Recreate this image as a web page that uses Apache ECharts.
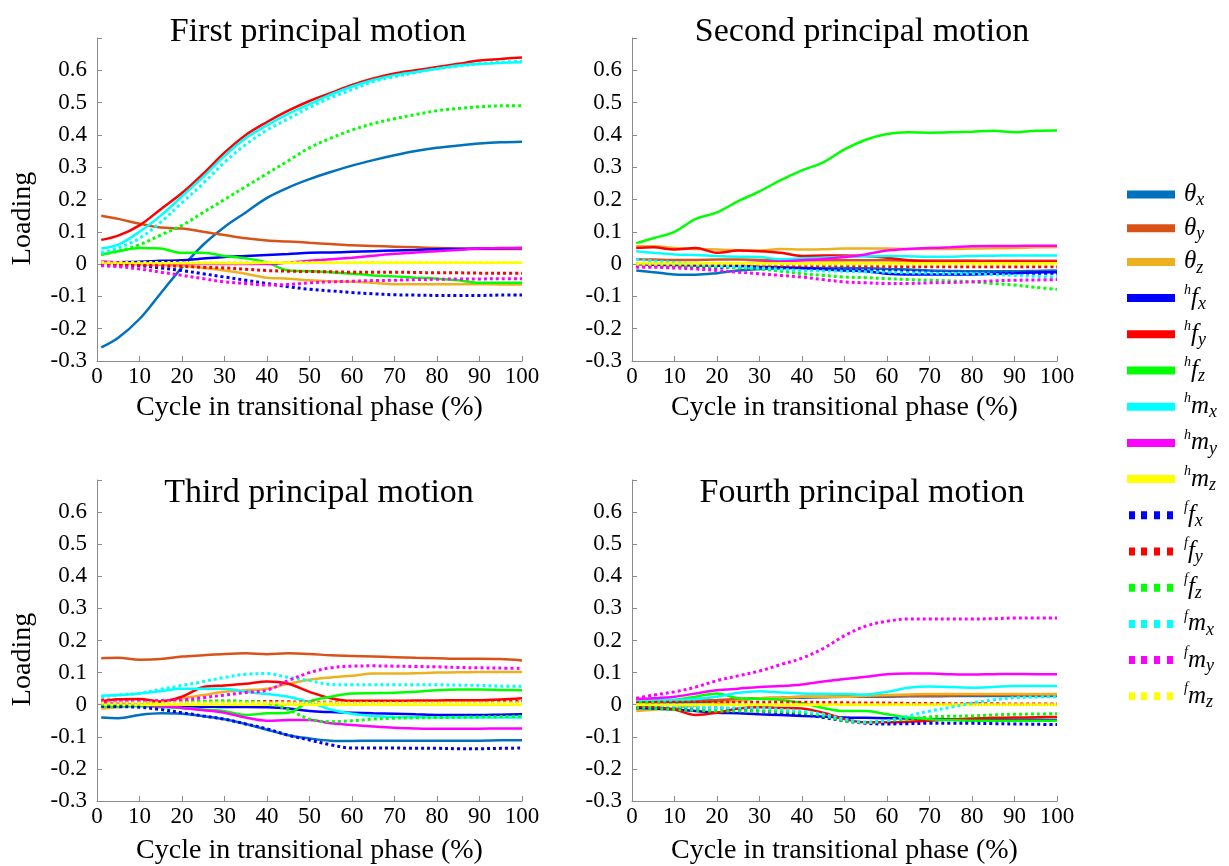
<!DOCTYPE html>
<html>
<head>
<meta charset="utf-8">
<script src="https://cdn.jsdelivr.net/npm/echarts@6/dist/echarts.min.js"></script>
<style>
  html, body { margin: 0; background: #fff; }
  #chart { width: 1229px; height: 866px; }
</style>
</head>
<body>
<div id="chart"></div>
<script>
// cycle positions (% of transitional phase) at which loadings were read
const cycle = [1, 5, 10, 15, 20, 25, 30, 35, 40, 45, 50, 55, 60, 65, 70, 75, 80, 85, 90, 95, 100];

const seriesNames = ['θx', 'θy', 'θz', 'hfx', 'hfy', 'hfz', 'hmx', 'hmy', 'hmz', 'ffx', 'ffy', 'ffz', 'fmx', 'fmy', 'fmz'];
const seriesColors = ['#0072BD', '#D95319', '#EDB120', '#0000FF', '#FF0000', '#00FF00', '#00FFFF', '#FF00FF', '#FFFF00',
  '#0000FF', '#FF0000', '#00FF00', '#00FFFF', '#FF00FF', '#FFFF00'];
const panelTitles = ['First principal motion', 'Second principal motion', 'Third principal motion', 'Fourth principal motion'];

// --- first principal motion
const first_thx = [-0.258, -0.228, -0.17, -0.09, -0.01, 0.06, 0.115, 0.16, 0.205, 0.237, 0.263, 0.285, 0.305, 0.322, 0.337, 0.35, 0.36, 0.367, 0.373, 0.377, 0.379];
const first_thy = [0.15, 0.14, 0.125, 0.113, 0.11, 0.1, 0.09, 0.08, 0.073, 0.07, 0.066, 0.062, 0.058, 0.056, 0.054, 0.052, 0.05, 0.048, 0.047, 0.047, 0.047];
const first_thz = [0.005, 0.003, 0.0, -0.002, -0.005, -0.012, -0.02, -0.03, -0.042, -0.045, -0.05, -0.053, -0.055, -0.058, -0.062, -0.062, -0.062, -0.062, -0.062, -0.063, -0.063];
const first_hfx = [0.005, 0.006, 0.007, 0.01, 0.012, 0.017, 0.022, 0.025, 0.028, 0.031, 0.035, 0.036, 0.038, 0.04, 0.042, 0.044, 0.046, 0.047, 0.048, 0.049, 0.05];
const first_hfy = [0.075, 0.088, 0.12, 0.17, 0.22, 0.28, 0.345, 0.4, 0.44, 0.475, 0.505, 0.53, 0.555, 0.575, 0.59, 0.6, 0.61, 0.62, 0.63, 0.635, 0.64];
const first_hfz = [0.03, 0.04, 0.05, 0.048, 0.035, 0.035, 0.025, 0.018, 0.005, -0.02, -0.022, -0.025, -0.03, -0.035, -0.038, -0.042, -0.045, -0.05, -0.058, -0.058, -0.058];
const first_hmx = [0.048, 0.06, 0.1, 0.15, 0.21, 0.27, 0.335, 0.39, 0.43, 0.465, 0.495, 0.525, 0.55, 0.57, 0.585, 0.595, 0.605, 0.615, 0.62, 0.623, 0.625];
const first_hmy = [0.008, 0.005, 0.0, 0.0, 0.0, 0.0, 0.0, 0.0, 0.0, 0.005, 0.01, 0.015, 0.02, 0.026, 0.032, 0.036, 0.04, 0.044, 0.048, 0.05, 0.05];
const first_hmz = [0.002, 0.002, 0.002, 0.002, 0.003, 0.003, 0.003, 0.003, 0.004, 0.004, 0.004, 0.004, 0.004, 0.004, 0.004, 0.004, 0.004, 0.004, 0.004, 0.004, 0.004];
const first_ffx = [-0.003, -0.004, -0.005, -0.012, -0.02, -0.03, -0.04, -0.05, -0.06, -0.07, -0.078, -0.083, -0.088, -0.092, -0.095, -0.096, -0.097, -0.097, -0.097, -0.096, -0.096];
const first_ffy = [0.0, -0.002, -0.003, -0.005, -0.007, -0.01, -0.012, -0.016, -0.02, -0.022, -0.023, -0.024, -0.025, -0.025, -0.025, -0.026, -0.027, -0.027, -0.028, -0.028, -0.028];
const first_ffz = [0.03, 0.04, 0.06, 0.09, 0.12, 0.16, 0.2, 0.24, 0.28, 0.32, 0.36, 0.39, 0.415, 0.435, 0.45, 0.463, 0.475, 0.482, 0.487, 0.49, 0.49];
const first_fmx = [0.035, 0.05, 0.08, 0.13, 0.19, 0.25, 0.315, 0.37, 0.415, 0.45, 0.485, 0.515, 0.54, 0.565, 0.58, 0.593, 0.605, 0.613, 0.62, 0.625, 0.628];
const first_fmy = [-0.005, -0.008, -0.015, -0.025, -0.035, -0.045, -0.055, -0.06, -0.065, -0.063, -0.058, -0.055, -0.053, -0.051, -0.05, -0.048, -0.047, -0.046, -0.046, -0.045, -0.045];
const first_fmz = [0.005, 0.005, 0.005, 0.005, 0.005, 0.005, 0.005, 0.005, 0.005, 0.005, 0.005, 0.005, 0.005, 0.005, 0.005, 0.005, 0.005, 0.005, 0.005, 0.005, 0.005];

// --- second principal motion
const second_thx = [-0.02, -0.025, -0.032, -0.033, -0.028, -0.02, -0.015, -0.013, -0.012, -0.012, -0.012, -0.013, -0.015, -0.017, -0.02, -0.021, -0.022, -0.022, -0.022, -0.021, -0.02];
const second_thy = [0.015, 0.014, 0.013, 0.013, 0.014, 0.014, 0.013, 0.012, 0.012, 0.012, 0.012, 0.012, 0.012, 0.011, 0.011, 0.011, 0.011, 0.01, 0.01, 0.01, 0.01];
const second_thz = [0.055, 0.055, 0.05, 0.047, 0.045, 0.043, 0.042, 0.047, 0.045, 0.046, 0.048, 0.048, 0.048, 0.047, 0.047, 0.047, 0.048, 0.049, 0.05, 0.052, 0.053];
const second_hfx = [0.0, -0.002, -0.003, -0.004, -0.005, -0.006, -0.008, -0.01, -0.012, -0.016, -0.02, -0.022, -0.03, -0.032, -0.032, -0.032, -0.032, -0.03, -0.028, -0.026, -0.025];
const second_hfy = [0.05, 0.052, 0.045, 0.05, 0.035, 0.042, 0.04, 0.035, 0.025, 0.027, 0.027, 0.025, 0.02, 0.012, 0.008, 0.007, 0.007, 0.008, 0.008, 0.007, 0.007];
const second_hfz = [0.065, 0.08, 0.1, 0.14, 0.16, 0.195, 0.225, 0.26, 0.29, 0.315, 0.355, 0.385, 0.403, 0.408, 0.407, 0.408, 0.41, 0.413, 0.408, 0.413, 0.414];
const second_hmx = [0.04, 0.035, 0.03, 0.028, 0.025, 0.023, 0.022, 0.015, 0.018, 0.02, 0.023, 0.024, 0.025, 0.024, 0.023, 0.023, 0.025, 0.026, 0.027, 0.027, 0.027];
const second_hmy = [0.0, 0.0, 0.0, 0.0, 0.0, 0.002, 0.005, 0.008, 0.012, 0.016, 0.022, 0.03, 0.042, 0.047, 0.05, 0.052, 0.055, 0.056, 0.056, 0.057, 0.057];
const second_hmz = [0.003, 0.003, 0.003, 0.003, 0.003, 0.003, 0.003, 0.003, 0.003, 0.003, 0.003, 0.003, 0.003, 0.003, 0.003, 0.003, 0.003, 0.003, 0.003, 0.003, 0.003];
const second_ffx = [-0.005, -0.006, -0.007, -0.008, -0.01, -0.011, -0.012, -0.013, -0.015, -0.016, -0.018, -0.019, -0.02, -0.022, -0.025, -0.027, -0.028, -0.028, -0.028, -0.028, -0.028];
const second_ffy = [-0.003, -0.003, -0.004, -0.004, -0.005, -0.005, -0.005, -0.005, -0.005, -0.005, -0.005, -0.006, -0.007, -0.008, -0.008, -0.008, -0.008, -0.008, -0.008, -0.008, -0.008];
const second_ffz = [0.0, -0.002, -0.003, -0.005, -0.008, -0.012, -0.015, -0.022, -0.03, -0.035, -0.04, -0.042, -0.045, -0.048, -0.05, -0.052, -0.055, -0.06, -0.065, -0.072, -0.078];
const second_fmx = [0.015, 0.01, 0.005, 0.0, -0.005, -0.008, -0.012, -0.016, -0.02, -0.021, -0.022, -0.024, -0.025, -0.027, -0.028, -0.029, -0.03, -0.032, -0.035, -0.038, -0.04];
const second_fmy = [-0.01, -0.01, -0.012, -0.015, -0.02, -0.025, -0.03, -0.035, -0.04, -0.048, -0.055, -0.058, -0.06, -0.06, -0.058, -0.057, -0.055, -0.052, -0.05, -0.049, -0.048];
const second_fmz = [0.0, 0.0, 0.0, 0.0, 0.0, 0.0, 0.0, 0.0, 0.0, 0.0, 0.0, 0.0, 0.0, 0.0, 0.0, 0.0, 0.0, 0.0, 0.0, 0.0, 0.0];

// --- third principal motion
const third_thx = [-0.04, -0.042, -0.032, -0.027, -0.028, -0.036, -0.045, -0.06, -0.078, -0.095, -0.105, -0.112, -0.113, -0.112, -0.112, -0.112, -0.112, -0.112, -0.112, -0.111, -0.111];
const third_thy = [0.145, 0.146, 0.14, 0.142, 0.15, 0.154, 0.158, 0.16, 0.157, 0.16, 0.158, 0.154, 0.152, 0.15, 0.148, 0.146, 0.145, 0.143, 0.143, 0.142, 0.138];
const third_thz = [-0.012, -0.008, 0.0, 0.01, 0.02, 0.03, 0.04, 0.045, 0.05, 0.065, 0.078, 0.085, 0.09, 0.097, 0.097, 0.098, 0.1, 0.101, 0.102, 0.102, 0.102];
const third_hfx = [0.0, -0.002, -0.003, -0.004, -0.005, -0.006, -0.007, -0.007, -0.008, -0.012, -0.02, -0.023, -0.025, -0.027, -0.028, -0.03, -0.032, -0.032, -0.032, -0.031, -0.03];
const third_hfy = [0.01, 0.017, 0.018, 0.01, 0.025, 0.055, 0.06, 0.065, 0.072, 0.065, 0.04, 0.02, 0.012, 0.012, 0.012, 0.013, 0.013, 0.014, 0.014, 0.016, 0.02];
const third_hfz = [-0.005, -0.005, -0.005, -0.008, -0.01, -0.015, -0.02, -0.032, -0.027, -0.025, 0.01, 0.025, 0.035, 0.036, 0.037, 0.04, 0.045, 0.047, 0.047, 0.046, 0.045];
const third_hmx = [0.028, 0.03, 0.035, 0.042, 0.05, 0.05, 0.05, 0.04, 0.033, 0.025, 0.008, -0.015, -0.028, -0.035, -0.038, -0.039, -0.04, -0.04, -0.04, -0.04, -0.04];
const third_hmy = [0.005, 0.003, 0.0, -0.005, -0.01, -0.017, -0.025, -0.04, -0.05, -0.048, -0.048, -0.058, -0.063, -0.068, -0.072, -0.074, -0.075, -0.075, -0.075, -0.074, -0.074];
const third_hmz = [0.0, 0.0, 0.0, 0.0, 0.0, 0.0, 0.0, 0.0, 0.0, 0.0, 0.0, 0.0, 0.0, 0.0, 0.0, 0.0, 0.0, 0.0, 0.0, 0.0, 0.0];
const third_ffx = [-0.005, -0.006, -0.008, -0.015, -0.025, -0.035, -0.045, -0.06, -0.075, -0.095, -0.11, -0.125, -0.135, -0.135, -0.135, -0.136, -0.136, -0.137, -0.137, -0.136, -0.135];
const third_ffy = [0.015, 0.014, 0.013, 0.012, 0.012, 0.011, 0.011, 0.01, 0.01, 0.009, 0.008, 0.008, 0.008, 0.008, 0.009, 0.009, 0.009, 0.01, 0.01, 0.01, 0.01];
const third_ffz = [0.0, 0.003, 0.005, 0.007, 0.008, 0.01, 0.012, 0.01, 0.005, -0.015, -0.045, -0.053, -0.05, -0.045, -0.042, -0.041, -0.04, -0.039, -0.038, -0.037, -0.036];
const third_fmx = [0.025, 0.03, 0.035, 0.048, 0.06, 0.072, 0.085, 0.095, 0.097, 0.085, 0.075, 0.063, 0.062, 0.062, 0.062, 0.062, 0.062, 0.061, 0.06, 0.058, 0.057];
const third_fmy = [0.01, 0.01, 0.01, 0.012, 0.015, 0.022, 0.03, 0.038, 0.045, 0.075, 0.1, 0.115, 0.12, 0.121, 0.12, 0.119, 0.118, 0.116, 0.115, 0.114, 0.113];
const third_fmz = [0.005, 0.005, 0.005, 0.005, 0.005, 0.005, 0.005, 0.005, 0.005, 0.005, 0.005, 0.005, 0.005, 0.005, 0.005, 0.005, 0.005, 0.005, 0.005, 0.005, 0.005];

// --- fourth principal motion
const fourth_thx = [0.0, 0.002, 0.005, 0.008, 0.01, 0.015, 0.02, 0.021, 0.022, 0.023, 0.025, 0.025, 0.025, 0.026, 0.026, 0.027, 0.027, 0.027, 0.027, 0.027, 0.027];
const fourth_thy = [0.01, 0.011, 0.012, 0.013, 0.015, 0.018, 0.02, 0.022, 0.025, 0.025, 0.026, 0.026, 0.027, 0.028, 0.028, 0.029, 0.03, 0.03, 0.03, 0.03, 0.03];
const fourth_thz = [-0.02, -0.016, -0.01, -0.003, 0.005, 0.012, 0.02, 0.022, 0.025, 0.025, 0.025, 0.028, 0.03, 0.032, 0.033, 0.033, 0.033, 0.033, 0.033, 0.033, 0.033];
const fourth_hfx = [-0.01, -0.012, -0.015, -0.02, -0.025, -0.027, -0.03, -0.032, -0.035, -0.037, -0.04, -0.041, -0.042, -0.043, -0.045, -0.045, -0.045, -0.046, -0.047, -0.047, -0.048];
const fourth_hfy = [-0.005, -0.007, -0.015, -0.032, -0.025, -0.012, -0.008, -0.01, -0.012, -0.025, -0.045, -0.055, -0.055, -0.053, -0.05, -0.046, -0.043, -0.041, -0.04, -0.039, -0.038];
const fourth_hfz = [0.005, 0.01, 0.015, 0.025, 0.035, 0.02, 0.018, 0.015, 0.005, -0.01, -0.02, -0.02, -0.03, -0.04, -0.045, -0.048, -0.05, -0.05, -0.05, -0.05, -0.05];
const fourth_hmx = [0.015, 0.015, 0.015, 0.018, 0.025, 0.037, 0.042, 0.038, 0.035, 0.034, 0.033, 0.032, 0.04, 0.053, 0.057, 0.055, 0.053, 0.055, 0.058, 0.058, 0.058];
const fourth_hmy = [0.018, 0.02, 0.025, 0.035, 0.045, 0.05, 0.055, 0.058, 0.063, 0.072, 0.08, 0.087, 0.095, 0.097, 0.097, 0.095, 0.094, 0.095, 0.096, 0.095, 0.095];
const fourth_hmz = [0.0, 0.0, 0.0, 0.0, 0.0, 0.0, 0.0, 0.0, 0.0, 0.0, 0.0, 0.0, 0.0, 0.0, 0.0, 0.0, 0.0, 0.0, 0.0, 0.0, 0.0];
const fourth_ffx = [-0.01, -0.01, -0.01, -0.01, -0.01, -0.015, -0.02, -0.025, -0.03, -0.04, -0.05, -0.058, -0.06, -0.059, -0.058, -0.058, -0.058, -0.059, -0.06, -0.061, -0.062];
const fourth_ffy = [0.005, 0.007, 0.008, 0.008, 0.008, 0.008, 0.008, 0.008, 0.008, 0.007, 0.006, 0.005, 0.005, 0.004, 0.004, 0.003, 0.003, 0.003, 0.002, 0.002, 0.002];
const fourth_ffz = [-0.01, -0.012, -0.015, -0.018, -0.02, -0.02, -0.02, -0.022, -0.025, -0.035, -0.05, -0.055, -0.05, -0.045, -0.038, -0.036, -0.035, -0.032, -0.03, -0.029, -0.028];
const fourth_fmx = [0.0, -0.002, -0.005, -0.008, -0.01, -0.01, -0.01, -0.015, -0.02, -0.03, -0.045, -0.055, -0.05, -0.035, -0.02, -0.008, 0.005, 0.015, 0.022, 0.024, 0.025];
const fourth_fmy = [0.02, 0.03, 0.04, 0.055, 0.075, 0.09, 0.105, 0.125, 0.145, 0.175, 0.215, 0.245, 0.26, 0.267, 0.267, 0.267, 0.267, 0.268, 0.27, 0.27, 0.27];
const fourth_fmz = [0.0, 0.0, 0.0, 0.0, 0.0, 0.0, 0.0, 0.0, 0.0, 0.0, 0.0, 0.0, 0.0, 0.0, 0.0, 0.0, 0.0, 0.0, 0.0, 0.0, 0.0];

const panels = [
  [first_thx, first_thy, first_thz, first_hfx, first_hfy, first_hfz, first_hmx, first_hmy, first_hmz, first_ffx, first_ffy, first_ffz, first_fmx, first_fmy, first_fmz],
  [second_thx, second_thy, second_thz, second_hfx, second_hfy, second_hfz, second_hmx, second_hmy, second_hmz, second_ffx, second_ffy, second_ffz, second_fmx, second_fmy, second_fmz],
  [third_thx, third_thy, third_thz, third_hfx, third_hfy, third_hfz, third_hmx, third_hmy, third_hmz, third_ffx, third_ffy, third_ffz, third_fmx, third_fmy, third_fmz],
  [fourth_thx, fourth_thy, fourth_thz, fourth_hfx, fourth_hfy, fourth_hfz, fourth_hmx, fourth_hmy, fourth_hmz, fourth_ffx, fourth_ffy, fourth_ffz, fourth_fmx, fourth_fmy, fourth_fmz]
];

const FONT = "'Liberation Serif', 'Times New Roman', serif";
const AXIS_GREY = '#8c8c8c';

const grids = [
  { left: 97, top: 38, width: 425, height: 323 },
  { left: 632, top: 38, width: 425, height: 323 },
  { left: 97, top: 480, width: 425, height: 323 },
  { left: 632, top: 480, width: 425, height: 323 }
];
const titlePos = [[313, 10], [857, 10], [314, 471], [857, 471]];
const xNameGap = [33, 33, 36, 36];

const SOLID_ICON = 'path://M0,0H48V8H0Z';
const DOTTED_ICON = 'path://M2,0H8V8H2Z M14,0H20V8H14Z M27,0H33V8H27Z M40,0H46V8H40Z';

function legendLabel(name) {
  if (name[0] === 'θ') return '{m|θ}{sb|' + name[1] + '}';
  return '{sp|' + name[0] + '}{m|' + name[1] + '}{sb|' + name[2] + '}';
}

const chart = echarts.init(document.getElementById('chart'), null, { renderer: 'canvas' });

const option = {
  animation: false,
  backgroundColor: '#fff',
  title: panelTitles.map((t, i) => ({
    text: t,
    left: titlePos[i][0],
    top: titlePos[i][1],
    textAlign: 'center',
    textStyle: { fontFamily: FONT, fontSize: 34, fontWeight: 'normal', color: '#000' }
  })),
  grid: grids,
  xAxis: grids.map((g, i) => ({
    gridIndex: i,
    type: 'value',
    min: 0,
    max: 100,
    interval: 10,
    name: 'Cycle in transitional phase (%)',
    nameLocation: 'middle',
    nameGap: xNameGap[i],
    nameTextStyle: { fontFamily: FONT, fontSize: 28, color: '#000' },
    axisLine: { onZero: false, lineStyle: { color: AXIS_GREY, width: 1 } },
    axisTick: { inside: true, length: 5, lineStyle: { color: AXIS_GREY } },
    axisLabel: { fontFamily: FONT, fontSize: 23, color: '#000', margin: 4 },
    splitLine: { show: false }
  })),
  yAxis: grids.map((g, i) => ({
    gridIndex: i,
    type: 'value',
    min: -0.3,
    max: 0.7,
    interval: 0.1,
    name: i % 2 === 0 ? 'Loading' : '',
    nameLocation: 'middle',
    nameGap: 60,
    nameTextStyle: { fontFamily: FONT, fontSize: 28, color: '#000', padding: [0, 38, 0, 0] },
    axisLine: { show: true, lineStyle: { color: AXIS_GREY, width: 1 } },
    axisTick: { inside: true, length: 5, lineStyle: { color: AXIS_GREY } },
    axisLabel: {
      fontFamily: FONT, fontSize: 23, color: '#000', margin: 10,
      formatter: v => (v > 0.65 ? '' : String(Math.round(v * 10) / 10))
    },
    splitLine: { show: false }
  })),
  legend: {
    orient: 'vertical',
    left: 1122,
    top: 177,
    itemWidth: 48,
    itemHeight: 8,
    itemGap: 6.2,
    itemStyle: { borderWidth: 0 },
    data: seriesNames.map((n, i) => ({ name: n, icon: i < 9 ? SOLID_ICON : DOTTED_ICON })),
    formatter: legendLabel,
    textStyle: {
      color: '#000',
      padding: [0, 0, 0, 4],
      rich: {
        m: { fontFamily: FONT, fontStyle: 'italic', fontSize: 25, lineHeight: 30, color: '#000' },
        sb: { fontFamily: FONT, fontStyle: 'italic', fontSize: 18, lineHeight: 16, verticalAlign: 'bottom', color: '#000' },
        sp: { fontFamily: FONT, fontStyle: 'italic', fontSize: 14, lineHeight: 14, verticalAlign: 'top', color: '#000' }
      }
    }
  },
  series: []
};

panels.forEach((rows, p) => {
  rows.forEach((vals, k) => {
    const dotted = k >= 9;
    option.series.push({
      name: seriesNames[k],
      type: 'line',
      xAxisIndex: p,
      yAxisIndex: p,
      data: cycle.map((c, j) => [c, vals[j]]),
      showSymbol: false,
      symbol: 'none',
      smooth: 0.35,
      color: seriesColors[k],
      lineStyle: dotted
        ? { width: 3, type: [3, 3], cap: 'butt', color: seriesColors[k] }
        : { width: 2.5, color: seriesColors[k] },
      emphasis: { disabled: true }
    });
  });
});

chart.setOption(option);
</script>
</body>
</html>
